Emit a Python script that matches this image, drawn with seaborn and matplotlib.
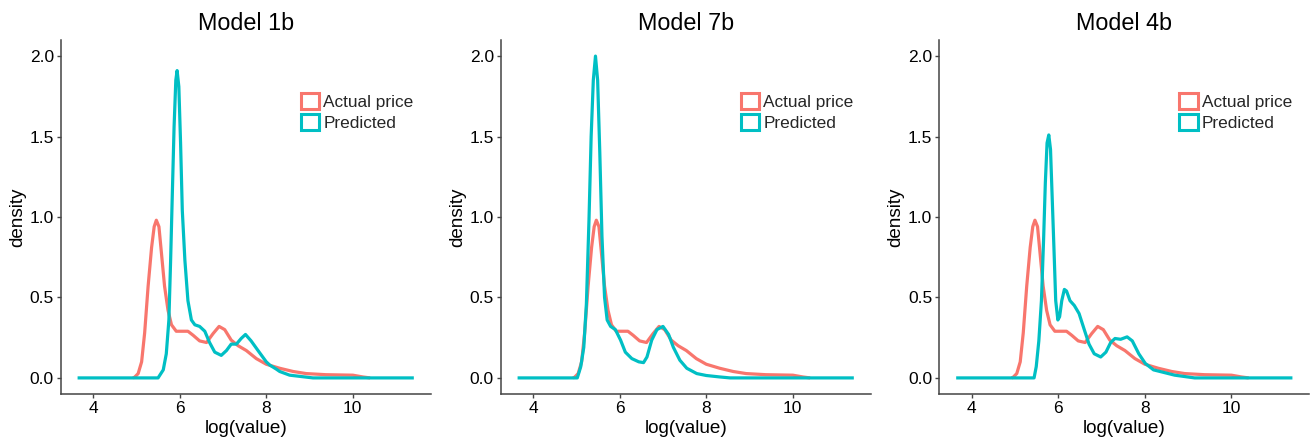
import matplotlib
matplotlib.use("Agg")
import matplotlib.pyplot as plt
from matplotlib.patches import Patch
import seaborn as sns
import pandas as pd

sns.set_theme(style="ticks")
plt.rcParams["font.family"] = ["Liberation Sans", "DejaVu Sans"]

# Density of the actual prices (shared by every panel)
actual_x = [4.92, 4.96, 5.04, 5.12, 5.19, 5.27, 5.35, 5.41, 5.46, 5.52, 5.58, 5.65,
            5.73, 5.81, 5.92, 6.08, 6.19, 6.31, 6.46, 6.62, 6.77, 6.91, 7.04, 7.19,
            7.35, 7.54, 7.77, 8.00, 8.31, 8.62, 8.92, 9.38, 10.00, 10.23, 10.40]
actual_y = [0.0, 0.005, 0.027, 0.10, 0.28, 0.57, 0.81, 0.94, 0.98, 0.94, 0.77, 0.57,
            0.42, 0.33, 0.29, 0.29, 0.29, 0.265, 0.23, 0.22, 0.275, 0.32, 0.30, 0.235,
            0.20, 0.17, 0.12, 0.085, 0.06, 0.04, 0.027, 0.02, 0.017, 0.006, 0.0]

# Density of the predictions, one per model
pred_1b_x = [3.64, 5.50, 5.62, 5.69, 5.75, 5.79, 5.83, 5.87, 5.91, 5.94, 5.98, 6.02,
             6.06, 6.12, 6.19, 6.27, 6.35, 6.46, 6.58, 6.69, 6.81, 6.96, 7.08, 7.19,
             7.31, 7.42, 7.52, 7.65, 7.81, 8.00, 8.08, 8.23, 8.31, 8.54, 9.08, 11.41]
pred_1b_y = [0.0, 0.0, 0.05, 0.15, 0.36, 0.73, 1.15, 1.56, 1.85, 1.91, 1.81, 1.46,
             1.04, 0.73, 0.48, 0.36, 0.33, 0.32, 0.29, 0.22, 0.16, 0.14, 0.17, 0.21,
             0.21, 0.245, 0.27, 0.23, 0.17, 0.10, 0.08, 0.055, 0.04, 0.017, 0.0, 0.0]

pred_7b_x = [3.64, 5.02, 5.10, 5.17, 5.23, 5.29, 5.34, 5.39, 5.44, 5.49, 5.54, 5.59,
             5.65, 5.71, 5.79, 5.90, 6.02, 6.13, 6.28, 6.44, 6.55, 6.63, 6.74, 6.86,
             7.00, 7.13, 7.24, 7.39, 7.55, 7.78, 8.00, 8.31, 8.55, 11.41]
pred_7b_y = [0.0, 0.0, 0.07, 0.19, 0.46, 0.98, 1.50, 1.85, 2.00, 1.85, 1.40, 0.88,
             0.50, 0.36, 0.32, 0.30, 0.235, 0.16, 0.12, 0.10, 0.095, 0.13, 0.235, 0.30,
             0.32, 0.27, 0.19, 0.11, 0.06, 0.027, 0.015, 0.006, 0.0, 0.0]

pred_4b_x = [3.64, 5.44, 5.49, 5.55, 5.61, 5.66, 5.70, 5.74, 5.78, 5.82, 5.86, 5.90,
             5.94, 5.99, 6.03, 6.08, 6.14, 6.19, 6.27, 6.37, 6.48, 6.60, 6.71, 6.83,
             6.98, 7.10, 7.21, 7.31, 7.44, 7.59, 7.71, 7.86, 8.01, 8.20, 8.69, 9.15, 11.41]
pred_4b_y = [0.0, 0.0, 0.07, 0.23, 0.48, 0.86, 1.21, 1.46, 1.51, 1.42, 1.11, 0.80,
             0.48, 0.36, 0.38, 0.48, 0.55, 0.54, 0.48, 0.45, 0.40, 0.30, 0.21, 0.15,
             0.13, 0.16, 0.22, 0.245, 0.24, 0.255, 0.23, 0.15, 0.09, 0.05, 0.017, 0.0, 0.0]

model_titles = ["Model 1b", "Model 7b", "Model 4b"]
predicted = [(pred_1b_x, pred_1b_y), (pred_7b_x, pred_7b_y), (pred_4b_x, pred_4b_y)]
series_labels = ["Actual price", "Predicted"]
series_colors = ["#F8766D", "#00BFC4"]
x_ticks = [4, 6, 8, 10]
y_ticks = [0.0, 0.5, 1.0, 1.5, 2.0]

W, H = 1316, 441
fig = plt.figure(figsize=(W / 100, H / 100), dpi=100)
axes_left = [60.7, 500.7, 939.3]
ax_w, ax_top, ax_bot = 370.0, 40.0, 394.0

for left, title, (px, py) in zip(axes_left, model_titles, predicted):
    ax = fig.add_axes([left / W, 1 - ax_bot / H, ax_w / W, (ax_bot - ax_top) / H])
    df_a = pd.DataFrame({"x": actual_x, "y": actual_y})
    df_p = pd.DataFrame({"x": px, "y": py})
    sns.lineplot(data=df_a, x="x", y="y", sort=False, ax=ax, color=series_colors[0],
                 linewidth=2.3, solid_joinstyle="round", solid_capstyle="butt")
    sns.lineplot(data=df_p, x="x", y="y", sort=False, ax=ax, color=series_colors[1],
                 linewidth=2.3, solid_joinstyle="round", solid_capstyle="butt")
    ax.set_xlim(3.25, 11.8)
    ax.set_ylim(-0.1, 2.1)
    ax.set_xticks(x_ticks)
    ax.set_yticks(y_ticks)
    ax.set_yticklabels([f"{t:.1f}" for t in y_ticks])
    ax.set_title(title, fontsize=16.8, pad=7, color="black")
    ax.set_xlabel("log(value)", fontsize=13.6, labelpad=3, color="black")
    ax.set_ylabel("density", fontsize=13.6, labelpad=2.5, color="black")
    ax.tick_params(axis="both", labelsize=12.5, length=3, width=1, color="#444444",
                   labelcolor="black", pad=2)
    for side in ["top", "right"]:
        ax.spines[side].set_visible(False)
    for side in ["left", "bottom"]:
        ax.spines[side].set_color("#444444")
        ax.spines[side].set_linewidth(1.1)
    handles = [Patch(facecolor="white", edgecolor=c, linewidth=2.2) for c in series_colors]
    ax.legend(handles, series_labels, loc="upper left", bbox_to_anchor=(0.649, 0.85),
              frameon=False, fontsize=12.4, handlelength=1.05, handleheight=1.05,
              handletextpad=0.25, labelspacing=0.25, borderpad=0, borderaxespad=0)

fig.savefig("out.png", dpi=100)
